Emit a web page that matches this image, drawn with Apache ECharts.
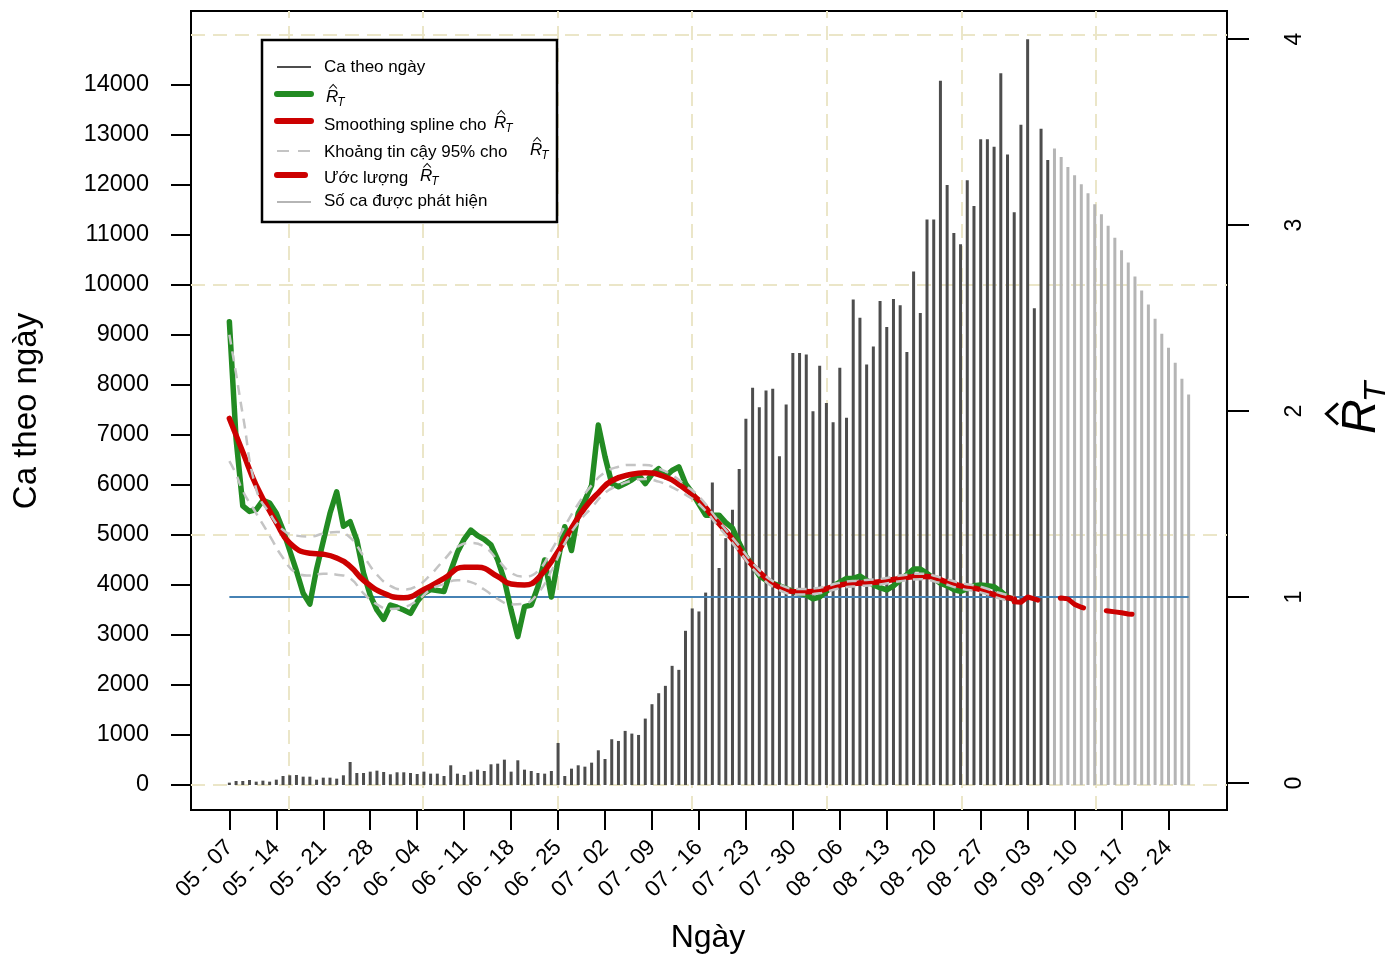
<!DOCTYPE html>
<html>
<head>
<meta charset="utf-8">
<script src="https://cdn.jsdelivr.net/npm/echarts@6/dist/echarts.min.js"></script>
<style>
  html, body { margin: 0; padding: 0; background: #ffffff; }
  #chart { width: 1385px; height: 956px; }
</style>
</head>
<body>
<div id="chart"></div>
<script>
// Day 0 = 2021-05-07; every array below is indexed by day from that date.
const tickLabels = ['05 - 07','05 - 14','05 - 21','05 - 28','06 - 04','06 - 11','06 - 18','06 - 25',
  '07 - 02','07 - 09','07 - 16','07 - 23','07 - 30','08 - 06','08 - 13','08 - 20','08 - 27',
  '09 - 03','09 - 10','09 - 17','09 - 24'];
const tickDays = tickLabels.map((_, i) => i * 7);
const caseTicks = [0,1000,2000,3000,4000,5000,6000,7000,8000,9000,10000,11000,12000,13000,14000];
const rtTicks = [0,1,2,3,4];

// Daily reported cases, 05-07 .. 09-06
const dailyCases = [
  47,80,80,100,67,87,67,107,180,194,
  200,167,167,107,147,147,127,194,460,240,
  240,267,287,260,214,254,254,240,220,267,
  227,227,180,394,227,200,267,307,280,414,
  427,507,267,494,307,280,240,227,280,841,
  180,327,394,367,447,694,520,915,881,1082,
  1028,1001,1328,1616,1836,1983,2383,2303,3084,3531,
  3471,3848,6050,4340,4937,5505,6320,7324,7945,7557,
  7891,7925,6576,7611,8638,8638,8612,7477,8385,7638,
  7257,8345,7344,9708,9347,8412,8772,9680,9159,9720,
  9593,8659,10268,9440,11310,11310,14086,12000,11042,10815,
  12097,11582,12915,12915,12766,14235,12608,11456,13206,14915,
  9535,13124,12500
];
// Detected cases, 09-07 .. 09-27
const detectedCases = [
  12730,12562,12361,12193,12013,11834,11614,11416,11186,10947,
  10697,10449,10170,9892,9612,9323,9025,8744,8446,8127,7809
];

// Daily R_T estimate, day 0 .. 117
const rtDaily = [
  2.48,1.85,1.49,1.46,1.47,1.52,1.505,1.45,1.36,1.25,
  1.14,1.02,0.962,1.15,1.30,1.45,1.565,1.38,1.405,1.306,
  1.129,1.01,0.93,0.88,0.957,0.945,0.93,0.912,0.975,1.02,
  1.04,1.035,1.03,1.14,1.24,1.31,1.36,1.33,1.31,1.28,
  1.2,1.09,0.93,0.787,0.948,0.957,1.055,1.199,1.0,1.2,
  1.378,1.25,1.45,1.52,1.6,1.925,1.754,1.61,1.593,1.61,
  1.63,1.656,1.61,1.66,1.69,1.647,1.68,1.70,1.61,1.56,
  1.50,1.44,1.44,1.44,1.40,1.37,1.29,1.22,1.17,1.115,
  1.09,1.074,1.06,1.045,1.03,1.02,1.011,0.99,1.0,1.03,
  1.06,1.08,1.1,1.1,1.113,1.09,1.065,1.05,1.038,1.06,
  1.09,1.12,1.15,1.15,1.127,1.1,1.074,1.06,1.04,1.03,
  1.045,1.06,1.065,1.06,1.055,1.03,1.0,0.985
];

// Smoothing spline of R_T
const splineDays = [0,2,4,7,9,12,14,16,18,20,23,26,29,32,35,37,40,42,44,46,49,51,53,55,57,
  60,62,65,67,70,72,75,77,80,82,85,87,90,92,95,97,99,102,104,107,109,112,114,117];
const splineRt = [1.96,1.78,1.60,1.40,1.29,1.235,1.23,1.21,1.165,1.09,1.02,0.996,1.04,1.10,1.16,
  1.16,1.11,1.07,1.065,1.10,1.245,1.37,1.48,1.56,1.625,1.66,1.668,1.645,1.605,1.52,1.435,1.31,
  1.21,1.10,1.052,1.028,1.029,1.055,1.07,1.076,1.082,1.094,1.109,1.11,1.08,1.06,1.04,1.012,0.99];

// 95% confidence band for R_T
const ciDays = [0,1,2,4,6,8,10,12,14,16,18,20,22,24,26,28,30,32,34,36,38,40,42,44,46,48,50,
  52,54,56,58,60,62,64,66,68,70,73,76,79,82,85,88,91,94,97,100,103,106,109,112,115,117];
const ciUpper = [2.41,2.2,1.98,1.58,1.45,1.36,1.33,1.325,1.34,1.35,1.32,1.22,1.12,1.06,1.04,1.06,
  1.12,1.20,1.27,1.29,1.27,1.20,1.13,1.11,1.14,1.25,1.38,1.50,1.60,1.67,1.70,1.71,1.71,1.69,
  1.655,1.60,1.54,1.405,1.275,1.145,1.067,1.043,1.05,1.077,1.089,1.097,1.115,1.125,1.105,
  1.075,1.055,1.02,1.005];
const ciLower = [1.73,1.66,1.57,1.45,1.33,1.21,1.13,1.115,1.125,1.12,1.10,1.02,0.96,0.935,0.945,
  0.98,1.04,1.07,1.09,1.08,1.04,0.99,0.96,0.965,1.02,1.14,1.29,1.40,1.48,1.56,1.60,1.625,1.635,
  1.62,1.59,1.55,1.50,1.375,1.245,1.115,1.037,1.013,1.02,1.047,1.059,1.067,1.085,1.095,1.075,
  1.045,1.025,0.99,0.975];

// Projected R_T
const estDays = [117,118,119,120,121,122,123,124,125,126,127,128,129,130,131,132,133,134,135];
const estRt = [0.975,0.972,1.0,0.99,0.978,0.975,0.985,0.995,0.99,0.96,0.945,0.935,0.932,0.93,
  0.925,0.92,0.915,0.909,0.905];

const rtThreshold = 1;

const FONT = '"Liberation Sans", Arial, Helvetica, sans-serif';
const TOP = 100;
const zip = (xs, ys) => xs.map((x, i) => [x, ys[i]]);
const lastDay = dailyCases.length + detectedCases.length - 1;

// R-hat with subscript T, drawn at (x, yMid) in local coordinates
function rHat(x, yMid, size) {
  return [
    { type: 'text', x: x, y: yMid, z: TOP + 2,
      style: { text: 'R', fontSize: size, fontStyle: 'italic', fontFamily: FONT, fill: '#000',
               align: 'left', verticalAlign: 'middle' } },
    { type: 'text', x: x + 0.66 * size, y: yMid + 0.32 * size, z: TOP + 2,
      style: { text: 'T', fontSize: 0.7 * size, fontStyle: 'italic', fontFamily: FONT, fill: '#000',
               align: 'left', verticalAlign: 'middle' } },
    { type: 'polyline', z: TOP + 2,
      shape: { points: [[x + 0.2 * size, yMid - 0.5 * size], [x + 0.42 * size, yMid - 0.74 * size],
                        [x + 0.64 * size, yMid - 0.5 * size]] },
      style: { stroke: '#000', lineWidth: Math.max(1, size / 16), fill: null } }
  ];
}

function legendText(x, y, text) {
  return { type: 'text', x: x, y: y, z: TOP + 2,
    style: { text: text, fontSize: 17, fontFamily: FONT, fill: '#000', align: 'left', verticalAlign: 'middle' } };
}
function legendLine(y, color, width, dash, x2) {
  const style = { stroke: color, lineWidth: width, lineCap: width > 3 ? 'round' : 'butt' };
  if (dash) style.lineDash = dash;
  return { type: 'line', z: TOP + 2, shape: { x1: 277, y1: y, x2: x2 || 311, y2: y }, style: style };
}

const legendChildren = [
  { type: 'rect', z: TOP + 1, shape: { x: 262, y: 40, width: 295, height: 182 },
    style: { fill: '#fff', stroke: '#000', lineWidth: 2.5 } },
  legendLine(67, '#4d4d4d', 2),
  legendText(324, 67, 'Ca theo ngày'),
  legendLine(94, '#228B22', 6),
  ...rHat(326, 97, 17),
  legendLine(121, '#CC0000', 6),
  legendText(324, 125, 'Smoothing spline cho'),
  ...rHat(494, 123, 17),
  legendLine(151, '#c4c4c4', 2, [12, 9]),
  legendText(324, 152, 'Khoảng tin cậy 95% cho'),
  ...rHat(530, 150, 17),
  legendLine(175, '#CC0000', 6, null, 305),
  legendText(324, 178, 'Ước lượng'),
  ...rHat(420, 176, 17),
  legendLine(202, '#b5b5b5', 2),
  legendText(324, 201, 'Số ca được phát hiện')
];

const chart = echarts.init(document.getElementById('chart'), null, { renderer: 'canvas' });

const option = {
  animation: false,
  backgroundColor: '#ffffff',
  textStyle: { fontFamily: FONT },
  grid: {
    left: 191, right: 158, top: 11, bottom: 146,
    show: true, borderColor: '#000', borderWidth: 2, backgroundColor: 'transparent',
    containLabel: false, outerBoundsMode: 'none'
  },
  xAxis: {
    type: 'value', min: -5.72, max: 148.72,
    axisLine: { show: false, onZero: false }, splitLine: { show: false },
    axisTick: { show: true, inside: false, length: 20, customValues: tickDays,
                lineStyle: { color: '#000', width: 2 } },
    axisLabel: { customValues: tickDays, rotate: 45, margin: 34, fontSize: 22.5, fontFamily: FONT,
                 color: '#000', formatter: v => tickLabels[Math.round(v / 7)] }
  },
  yAxis: [
    {
      type: 'value', position: 'left', min: -500, max: 15480,
      axisLine: { show: false, onZero: false }, splitLine: { show: false },
      axisTick: { show: true, inside: false, length: 20, customValues: caseTicks,
                  lineStyle: { color: '#000', width: 2 } },
      axisLabel: { customValues: caseTicks, fontSize: 23.5, fontFamily: FONT, color: '#000', margin: 42,
                   formatter: v => String(v) }
    },
    {
      type: 'value', position: 'right', min: -0.1452, max: 4.1505,
      axisLine: { show: false, onZero: false }, splitLine: { show: false },
      axisTick: { show: true, inside: false, length: 22, customValues: rtTicks,
                  lineStyle: { color: '#000', width: 2 } },
      axisLabel: { customValues: rtTicks, rotate: 90, fontSize: 23, fontFamily: FONT, color: '#000', margin: 56,
                   formatter: v => String(v) }
    }
  ],
  series: [
    {
      name: 'grid', type: 'line', data: [], z: 1, silent: true,
      markLine: {
        z: 1, silent: true, symbol: ['none', 'none'], label: { show: false },
        lineStyle: { color: '#ebe6c8', type: [14, 8], width: 2 },
        emphasis: { disabled: true },
        data: [8.8, 28.9, 49.0, 69.0, 89.1, 109.2, 129.1].map(d => ({ xAxis: d }))
          .concat([0, 5000, 10000, 15000].map(v => ({ yAxis: v })))
      }
    },
    {
      name: 'Ca theo ngày', type: 'bar', xAxisIndex: 0, yAxisIndex: 0, z: 2,
      barWidth: 3, barGap: '-100%',
      itemStyle: { color: '#4d4d4d' },
      data: dailyCases.map((v, i) => [i, v])
    },
    {
      name: 'Số ca được phát hiện', type: 'bar', xAxisIndex: 0, yAxisIndex: 0, z: 2,
      barWidth: 3, barGap: '-100%',
      itemStyle: { color: '#b5b5b5' },
      data: detectedCases.map((v, i) => [i + dailyCases.length, v])
    },
    {
      name: 'threshold', type: 'line', yAxisIndex: 1, z: 3, symbol: 'none',
      lineStyle: { color: '#4682B4', width: 2.2 },
      data: [[0, rtThreshold], [lastDay, rtThreshold]]
    },
    {
      name: 'R_T', type: 'line', yAxisIndex: 1, z: 4, symbol: 'none',
      lineStyle: { color: '#228B22', width: 5.5, cap: 'round', join: 'round' },
      data: rtDaily.map((v, i) => [i, v])
    },
    {
      name: 'spline', type: 'line', yAxisIndex: 1, z: 5, symbol: 'none',
      smooth: 0.5,
      lineStyle: { color: '#CC0000', width: 5.5, cap: 'round', join: 'round' },
      data: zip(splineDays, splineRt)
    },
    {
      name: 'ci-upper', type: 'line', yAxisIndex: 1, z: 6, symbol: 'none',
      smooth: 0.5,
      lineStyle: { color: '#c4c4c4', width: 2.5, type: [10, 7] },
      data: zip(ciDays, ciUpper)
    },
    {
      name: 'ci-lower', type: 'line', yAxisIndex: 1, z: 6, symbol: 'none',
      smooth: 0.5,
      lineStyle: { color: '#c4c4c4', width: 2.5, type: [10, 7] },
      data: zip(ciDays, ciLower)
    },
    {
      name: 'estimate', type: 'line', yAxisIndex: 1, z: 7, symbol: 'none',
      lineStyle: { color: '#CC0000', width: 5, type: [26, 23], cap: 'round', join: 'round' },
      data: zip(estDays, estRt)
    }
  ],
  graphic: [
    { type: 'group', z: TOP, children: legendChildren },
    { type: 'text', x: 27, y: 411, rotation: Math.PI / 2, z: TOP,
      style: { text: 'Ca theo ngày', fontSize: 33, fontFamily: FONT, fill: '#000',
               align: 'center', verticalAlign: 'middle' } },
    { type: 'text', x: 708, y: 938, z: TOP,
      style: { text: 'Ngày', fontSize: 32, fontFamily: FONT, fill: '#000',
               align: 'center', verticalAlign: 'middle' } },
    { type: 'group', x: 1362, y: 416, rotation: Math.PI / 2, z: TOP,
      children: rHat(-18, 0, 48) }
  ]
};

chart.setOption(option);
</script>
</body>
</html>
